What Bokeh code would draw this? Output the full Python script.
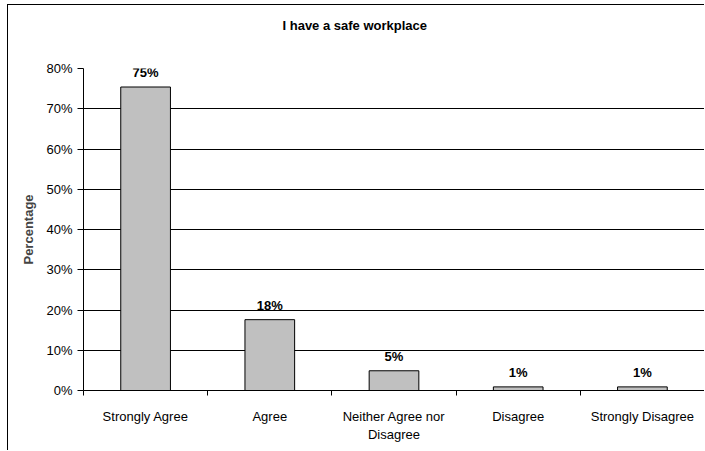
from bokeh.plotting import figure
from bokeh.models import (Range1d, FixedTicker, PrintfTickFormatter, ColumnDataSource)
from bokeh.core.properties import value
from bokeh.embed import file_html
from bokeh.resources import INLINE

categories = ["Strongly Agree", "Agree", "Neither Agree nor\nDisagree", "Disagree", "Strongly Disagree"]
values = [75.4, 17.6, 4.9, 0.9, 0.9]
labels = ["75%", "18%", "5%", "1%", "1%"]
y_ticks = [0, 10, 20, 30, 40, 50, 60, 70, 80]
title_text = "I have a safe workplace"
y_title = "Percentage"

FONT = "Liberation Sans"
W, H = 697, 446

xs = [i + 0.5 for i in range(len(categories))]
src = ColumnDataSource(dict(x=xs, top=values, label=labels))

# two spacer lines below the title lift it up within the top panel
p = figure(width=W, height=H, output_backend="svg", toolbar_location=None,
           x_range=Range1d(0, len(categories)), y_range=Range1d(0, 80),
           min_border_left=75, min_border_right=1, min_border_top=63, min_border_bottom=61,
           title=title_text + "\n \n ")
p.styles = {"border-left": "1px solid black", "border-top": "1px solid black",
            "margin-left": "7px", "margin-top": "4px"}
p.outline_line_color = None
p.background_fill_color = "white"
p.border_fill_color = "white"

p.title.align = "left"
p.title.offset = 199
p.title.standoff = 11
p.title.text_font = FONT
p.title.text_font_size = "13px"
p.title.text_font_style = "bold"
p.title.text_color = "black"

p.vbar(x="x", top="top", width=0.4, bottom=0, source=src,
       fill_color="#C0C0C0", line_color="black", line_width=1)
p.text(x="x", y="top", text="label", source=src, text_align="center",
       text_baseline="bottom", y_offset=-7, text_font_size="13px",
       text_font_style="bold", text_font=value(FONT), text_color="black")

yax = p.yaxis[0]
yax.ticker = FixedTicker(ticks=y_ticks)
yax.formatter = PrintfTickFormatter(format="%d%%")
yax.major_tick_in = 0
yax.major_tick_out = 6
yax.minor_tick_line_color = None
yax.major_label_standoff = 5
yax.major_label_text_font = FONT
yax.major_label_text_font_size = "13px"
yax.major_label_text_color = "black"
yax.axis_label = y_title
yax.axis_label_text_font = FONT
yax.axis_label_text_font_size = "13px"
yax.axis_label_text_font_style = "bold"
yax.axis_label_standoff = 7
yax.axis_line_color = "black"

xax = p.xaxis[0]
xax.ticker = FixedTicker(ticks=xs, minor_ticks=list(range(len(categories) + 1)))
xax.major_label_overrides = {x: c for x, c in zip(xs, categories)}
xax.major_tick_line_color = None
xax.minor_tick_in = 0
xax.minor_tick_out = 5
xax.minor_tick_line_color = "black"
xax.major_label_standoff = 12
xax.major_label_text_font = FONT
xax.major_label_text_font_size = "13px"
xax.major_label_text_color = "black"
xax.axis_line_color = "black"

p.xgrid.visible = False
p.ygrid.ticker = FixedTicker(ticks=y_ticks)
p.ygrid.grid_line_color = "black"
p.ygrid.grid_line_alpha = 1.0

open("out.html", "w").write(file_html(p, INLINE))
